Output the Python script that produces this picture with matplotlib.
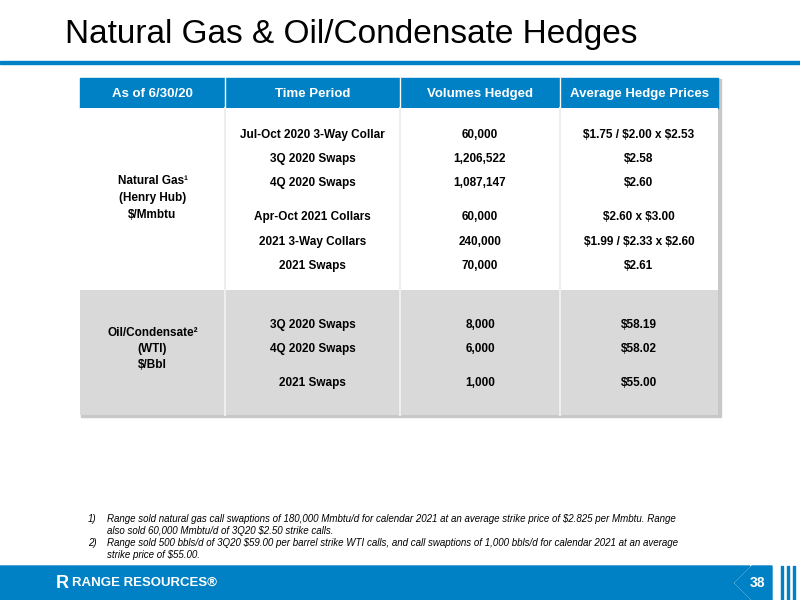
import matplotlib.pyplot as plt
from matplotlib.patches import Rectangle, Polygon

blue = "#0081c6"

headers = ["As of 6/30/20", "Time Period", "Volumes Hedged", "Average Hedge Prices"]
gas_label = "Natural Gas¹\n(Henry Hub)\n$/Mmbtu"
gas_periods = ["Jul-Oct 2020 3-Way Collar", "3Q 2020 Swaps", "4Q 2020 Swaps",
               "Apr-Oct 2021 Collars", "2021 3-Way Collars", "2021 Swaps"]
gas_volumes = ["60,000", "1,206,522", "1,087,147", "60,000", "240,000", "70,000"]
gas_prices = ["$1.75 / $2.00 x $2.53", "$2.58", "$2.60", "$2.60 x $3.00",
              "$1.99 / $2.33 x $2.60", "$2.61"]
oil_label = "Oil/Condensate²\n(WTI)\n$/Bbl"
oil_periods = ["3Q 2020 Swaps", "4Q 2020 Swaps", "2021 Swaps"]
oil_volumes = ["8,000", "6,000", "1,000"]
oil_prices = ["$58.19", "$58.02", "$55.00"]
gas_rows_y = [135, 159, 183, 217, 242, 266]
oil_rows_y = [325, 349, 383]

notes = [
    ("1)", "Range sold natural gas call swaptions of 180,000 Mmbtu/d for calendar 2021 at an average strike price of $2.825 per Mmbtu. Range\nalso sold 60,000 Mmbtu/d of 3Q20 $2.50 strike calls."),
    ("2)", "Range sold 500 bbls/d of 3Q20 $59.00 per barrel strike WTI calls, and call swaptions of 1,000 bbls/d for calendar 2021 at an average\nstrike price of $55.00."),
]

plt.rcParams['font.family'] = ['Liberation Sans', 'DejaVu Sans']
fig = plt.figure(figsize=(8, 6), dpi=100)
ax = fig.add_axes([0, 0, 1, 1])
ax.set_xlim(0, 800)
ax.set_ylim(600, 0)
ax.axis('off')

def txt(x, y, s, **kw):
    return ax.text(x, y, s, parse_math=False, **kw)

# title
txt(65, 34, "Natural Gas & Oil/Condensate Hedges", fontsize=24, va='center', color='black')
ax.add_patch(Rectangle((0, 61), 800, 3, color=blue))

# table
cols = [80, 225, 400, 560, 718]
ax.add_patch(Rectangle((81, 79), 640, 338, color='#c8c8c8', zorder=0))
ax.add_patch(Rectangle((80, 78), 638, 30, color=blue, zorder=1))
ax.add_patch(Rectangle((80, 108), 638, 182, facecolor='white', zorder=1))
ax.add_patch(Rectangle((80, 290), 638, 125, facecolor='#d9d9d9', zorder=1))
for x in cols[1:-1]:
    ax.plot([x, x], [78, 108], color='white', lw=1, zorder=2)
    ax.plot([x, x], [108, 415], color='#eeeeee', lw=1.5, zorder=2)
for i, h in enumerate(headers):
    txt((cols[i] + cols[i + 1]) / 2, 94, h, color='white', fontsize=9.5,
        fontweight='bold', ha='center', va='center', zorder=3)

def fill(label, label_y, periods, volumes, prices, ys):
    txt((cols[0] + cols[1]) / 2, label_y, label, fontsize=8.5, fontweight='bold',
        ha='center', va='center', linespacing=1.5, zorder=3)
    for p, v, pr, y in zip(periods, volumes, prices, ys):
        for j, t in enumerate([p, v, pr]):
            txt((cols[j + 1] + cols[j + 2]) / 2, y, t, fontsize=8.5, fontweight='bold',
                ha='center', va='center', zorder=3)

fill(gas_label, 198, gas_periods, gas_volumes, gas_prices, gas_rows_y)
fill(oil_label, 349, oil_periods, oil_volumes, oil_prices, oil_rows_y)

# footnotes
for (n, t), y in zip(notes, [514, 538]):
    txt(88, y, n, fontsize=7, style='italic', va='top')
    txt(107, y, t, fontsize=7, style='italic', va='top', linespacing=1.2)

# footer band
ax.add_patch(Polygon([(0, 566), (750, 566), (733, 583), (750, 600), (0, 600)], color=blue))
ax.add_patch(Polygon([(752, 566), (772, 566), (772, 600), (752, 600), (735, 583)], color=blue))
for x in [781, 787, 793]:
    ax.add_patch(Rectangle((x, 566), 2, 34, color=blue))
txt(56, 583, "R", color='white', fontsize=13, fontweight='bold', va='center')
txt(72, 583, "RANGE RESOURCES®", color='white', fontsize=9.5, fontweight='bold', va='center')
txt(757, 583, "38", color='white', fontsize=10, fontweight='bold', va='center', ha='center')

fig.savefig("out.png", dpi=100)
